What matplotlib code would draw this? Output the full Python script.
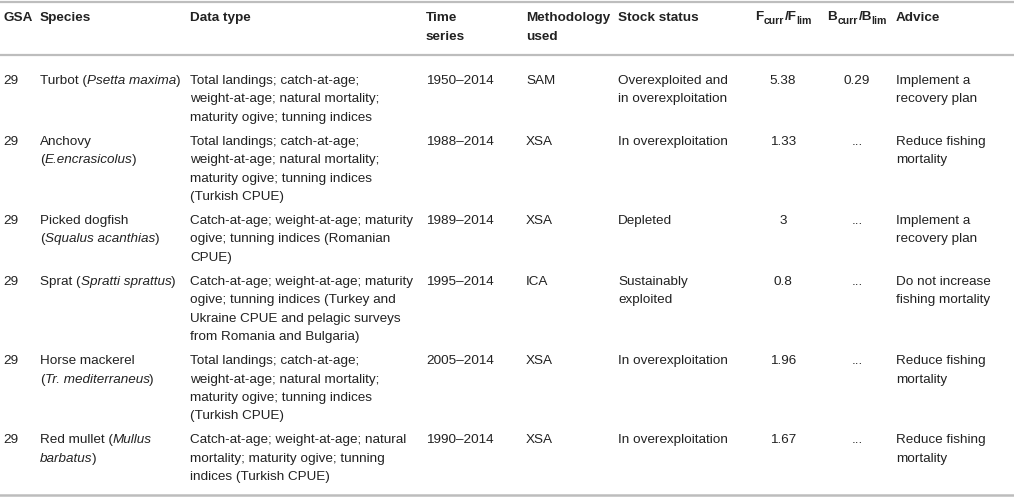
import matplotlib
matplotlib.use('agg')
import matplotlib.pyplot as plt

plt.rcParams['font.family'] = ['Liberation Sans', 'DejaVu Sans']

# table content ('*' toggles italics, '\n' breaks a line)
headers = ['GSA', 'Species', 'Data type', 'Time\nseries', 'Methodology\nused',
           'Stock status', 'F_curr/F_lim', 'B_curr/B_lim', 'Advice']
gsa = ['29', '29', '29', '29', '29', '29']
species = ['Turbot (*Psetta maxima*)',
           'Anchovy\n(*E.encrasicolus*)',
           'Picked dogfish\n(*Squalus acanthias*)',
           'Sprat (*Spratti sprattus*)',
           'Horse mackerel\n(*Tr. mediterraneus*)',
           'Red mullet (*Mullus*\n*barbatus*)']
data_type = ['Total landings; catch-at-age;\nweight-at-age; natural mortality;\nmaturity ogive; tunning indices',
             'Total landings; catch-at-age;\nweight-at-age; natural mortality;\nmaturity ogive; tunning indices\n(Turkish CPUE)',
             'Catch-at-age; weight-at-age; maturity\nogive; tunning indices (Romanian\nCPUE)',
             'Catch-at-age; weight-at-age; maturity\nogive; tunning indices (Turkey and\nUkraine CPUE and pelagic surveys\nfrom Romania and Bulgaria)',
             'Total landings; catch-at-age;\nweight-at-age; natural mortality;\nmaturity ogive; tunning indices\n(Turkish CPUE)',
             'Catch-at-age; weight-at-age; natural\nmortality; maturity ogive; tunning\nindices (Turkish CPUE)']
time_series = ['1950–2014', '1988–2014', '1989–2014', '1995–2014', '2005–2014', '1990–2014']
method = ['SAM', 'XSA', 'XSA', 'ICA', 'XSA', 'XSA']
status = ['Overexploited and\nin overexploitation', 'In overexploitation', 'Depleted',
          'Sustainably\nexploited', 'In overexploitation', 'In overexploitation']
f_ratio = ['5.38', '1.33', '3', '0.8', '1.96', '1.67']
b_ratio = ['0.29', '...', '...', '...', '...', '...']
advice = ['Implement a\nrecovery plan', 'Reduce fishing\nmortality', 'Implement a\nrecovery plan',
          'Do not increase\nfishing mortality', 'Reduce fishing\nmortality', 'Reduce fishing\nmortality']

columns = [gsa, species, data_type, time_series, method, status, f_ratio, b_ratio, advice]
col_x = [3, 40, 190, 426, 526, 618, 783, 857, 896]
col_ha = ['left'] * 6 + ['center', 'center', 'left']

W, H = 1014, 498
FS = 9.7
LINE = 18.3
GAP = 6
TXT = '#222222'
RULE = '#bdbdbd'

fig = plt.figure(figsize=(W / 100, H / 100), dpi=100)
ax = fig.add_axes([0, 0, 1, 1])
ax.set_xlim(0, W)
ax.set_ylim(H, 0)
ax.axis('off')
renderer = fig.canvas.get_renderer()


def draw_line(x, y, line, ha, weight='normal'):
    # draw one line of text, switching to italics between '*' marks
    parts = line.split('*')
    if len(parts) == 1:
        ax.text(x, y, line, ha=ha, va='center', fontsize=FS, color=TXT, fontweight=weight)
        return
    for i, part in enumerate(parts):
        if not part:
            continue
        t = ax.text(x, y, part, ha='left', va='center', fontsize=FS, color=TXT,
                    fontweight=weight, fontstyle='italic' if i % 2 else 'normal')
        x += t.get_window_extent(renderer).width
        if i % 2:
            x -= 0.4


def draw_ratio(xc, y, label):
    # bold ratio header with real subscripts, centred on xc
    a, b = label.split('/')
    pieces = []
    for j, p in enumerate([a, b]):
        main, sub = p.split('_')
        pieces.append(((main if j == 0 else '/' + main), FS, 0, 0.3 if j == 0 else -1.2))
        pieces.append((sub, FS * 0.78, 3.5, 1.6 if j == 0 else 0))
    texts = []
    total = 0
    for s, size, dy, pad in pieces:
        t = ax.text(0, y + dy, s, ha='left', va='center', fontsize=size,
                    color=TXT, fontweight='bold')
        w = t.get_window_extent(renderer).width + pad
        texts.append((t, w))
        total += w
    x = xc - total / 2
    for t, w in texts:
        t.set_x(x)
        x += w


# rules
ax.axhline(2, color=RULE, lw=1.6)
ax.axhline(55, color=RULE, lw=1.6)

# header
for x, ha, head in zip(col_x, col_ha, headers):
    if '_' in head:
        draw_ratio(x, 17, head)
        continue
    for k, ln in enumerate(head.split('\n')):
        draw_line(x, 18 + k * 19, ln, ha, weight='bold')

# body
y0 = 81
for r in range(len(gsa)):
    n_lines = max(col[r].count('\n') + 1 for col in columns)
    for col, x, ha in zip(columns, col_x, col_ha):
        for k, ln in enumerate(col[r].split('\n')):
            draw_line(x, y0 + k * LINE, ln, ha)
    y0 += n_lines * LINE + GAP

ax.axhline(y0 - GAP - LINE + 18, color=RULE, lw=1.8)

fig.savefig('out.png', dpi=100)
